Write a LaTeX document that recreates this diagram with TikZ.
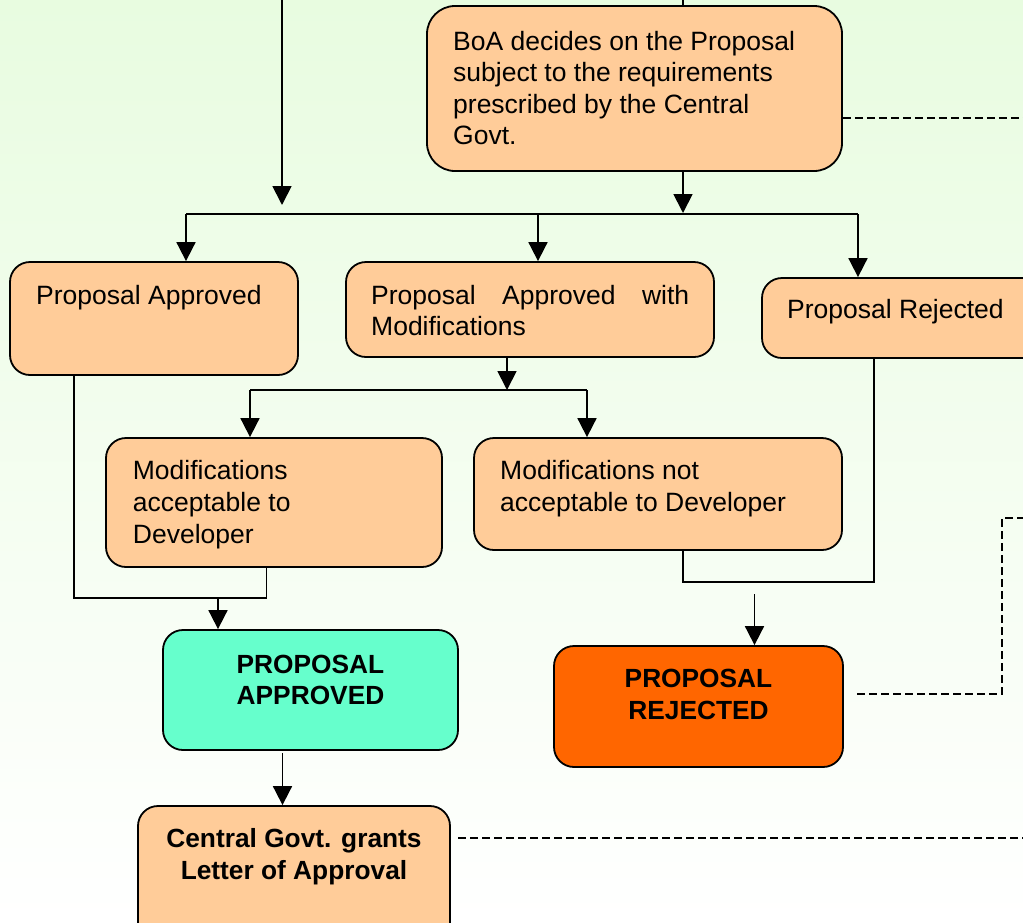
\documentclass[tikz,border=0pt]{standalone}
\usepackage{fontspec}
\setmainfont{Liberation Sans}
\usetikzlibrary{arrows.meta}
\definecolor{peach}{HTML}{FFCC99}
\definecolor{aqua}{HTML}{66FFCC}
\definecolor{rorange}{HTML}{FF6600}
\definecolor{bgtop}{HTML}{E8FCE0}
\begin{document}
\begin{tikzpicture}[x=1pt,y=-1pt,
  box/.style={draw=black, line width=1.8pt, rounded corners=20pt, fill=peach, inner sep=0pt},
  txt/.style={inner sep=0pt, font=\fontsize{26.5}{31.5}\selectfont, align=left, anchor=north west},
  txtb/.style={inner sep=0pt, font=\fontsize{26.5}{32}\selectfont, align=left, anchor=north west},
  btxt/.style={inner sep=0pt, font=\fontsize{26.3}{31}\selectfont\bfseries, align=center, anchor=north},
  conn/.style={line width=1.8pt},
  arr/.style={line width=1.8pt, -{Triangle[length=19pt,width=19pt]}},
  dsh/.style={line width=1.5pt, dash pattern=on 8pt off 4pt}]
\useasboundingbox (0,0) rectangle (1023,922);
\clip (0,0) rectangle (1023,922);
\shade[top color=bgtop, bottom color=white] (0,0) rectangle (1023,922);

% boxes
\node[box, rounded corners=28pt, minimum width=415pt, minimum height=165pt] (boa) at (634.5,88.5) {};
\node[box, minimum width=288pt, minimum height=113pt] (pa1) at (154,318.5) {};
\node[box, minimum width=368pt, minimum height=95pt] (pam) at (530,309.5) {};
\node[box, minimum width=288pt, minimum height=80pt] (pr1) at (906,318) {};
\node[box, minimum width=336pt, minimum height=129pt] (ma) at (274,502.5) {};
\node[box, minimum width=368pt, minimum height=112pt] (mn) at (658,494) {};
\node[box, fill=aqua, minimum width=295pt, minimum height=120pt] (fa) at (310.5,690) {};
\node[box, fill=rorange, minimum width=289pt, minimum height=121pt] (fr) at (698.5,706.5) {};
\node[box, minimum width=312pt, minimum height=144pt] (cg) at (294,878) {};

% texts
\node[txt] (boat) at (453,27.95) {\strut BoA decides on the Proposal\\subject to the requirements\\prescribed by the Central\\Govt.};
\node[txt] (pa1t) at (36,281.95) {\strut Proposal Approved};
\node[txt] (pamt) at (371,281.95) {\strut\makebox[318pt][s]{Proposal Approved with}\\Modifications};
\node[txt] (pr1t) at (787,295.95) {\strut Proposal Rejected};
\node[txtb] (mat) at (132.7,456.6) {\strut Modifications\\acceptable to\\Developer};
\node[txtb] (mnt) at (500,456.6) {\strut Modifications not\\acceptable to Developer};
\node[btxt] (fat) at (310.5,651.3) {\strut PROPOSAL\\APPROVED};
\node[btxt, font=\fontsize{26.3}{32}\selectfont\bfseries] (frt) at (698.5,664.6) {\strut PROPOSAL\\REJECTED};
\node[btxt, font=\fontsize{26.3}{32}\selectfont\bfseries] (cgt) at (294,824.6) {\strut Central Govt. grants\\Letter of Approval};

% coordinates
\coordinate (tl0) at (282,0);
\coordinate (tl1) at (282,205);
\coordinate (top0) at (683,0);
\coordinate (bus) at (683,213);
\coordinate (busL) at (186,214);
\coordinate (busM) at (538,214);
\coordinate (busR) at (858,214);
\coordinate (b2c) at (507,390);
\coordinate (b2L) at (250,390);
\coordinate (b2R) at (587,390);
\coordinate (j1) at (74,598);
\coordinate (j2) at (266.5,598);
\coordinate (j3) at (218,598);
\coordinate (k1) at (683,582);
\coordinate (k2) at (874,582);
\coordinate (k3) at (754.5,594);
\coordinate (f1) at (282.5,753);
\coordinate (d1) at (1023,118);
\coordinate (e0) at (857,694);
\coordinate (e1) at (1002,694);
\coordinate (e2) at (1002,518);
\coordinate (e3) at (1023,518);
\coordinate (g0) at (458,838);
\coordinate (g1) at (1023,838);

% connectors
\draw[arr] (tl0) -- (tl1);
\draw[conn] (top0) -- (top0 |- boa.north);
\draw[arr] (top0 |- boa.south) -- (bus);
\draw[conn] (busL) -- (busR);
\draw[arr] (busL) -- (busL |- pa1.north);
\draw[arr] (busM) -- (busM |- pam.north);
\draw[arr] (busR) -- (busR |- pr1.north);
\draw[arr] (b2c |- pam.south) -- (b2c);
\draw[conn] (b2L) -- (b2R);
\draw[arr] (b2L) -- (b2L |- ma.north);
\draw[arr] (b2R) -- (b2R |- mn.north);
\draw[conn] (j1 |- pa1.south) -- (j1) -- (j2) -- (j2 |- ma.south);
\draw[arr] (j3) -- (j3 |- fa.north);
\draw[conn] (k1 |- mn.south) -- (k1) -- (k2) -- (k2 |- pr1.south);
\draw[arr] (k3) -- (k3 |- fr.north);
\draw[arr] (f1) -- (f1 |- cg.north);
\draw[dsh] (boa.east |- d1) -- (d1);
\draw[dsh] (e0) -- (e1) -- (e2) -- (e3);
\draw[dsh] (g0) -- (g1);
\end{tikzpicture}
\end{document}
